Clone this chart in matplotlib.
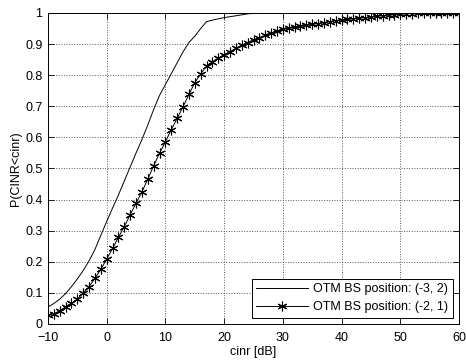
import numpy as np
import matplotlib
matplotlib.use("Agg")
import matplotlib.pyplot as plt

plt.rcParams["font.family"] = ["Liberation Sans", "DejaVu Sans"]

# cinr en dB, pas de 1 dB
cinr = np.arange(-10, 61)

# OTM BS position (-3, 2)
p_pos1 = [0.055, 0.066, 0.080, 0.098, 0.120, 0.145, 0.172, 0.203, 0.240, 0.285,
          0.330, 0.373, 0.415, 0.460, 0.505, 0.550, 0.593, 0.640, 0.690, 0.735,
          0.770, 0.805, 0.840, 0.875, 0.905, 0.925, 0.950, 0.972, 0.977, 0.981,
          0.985, 0.988, 0.991, 0.994, 0.997, 0.999] + [1.0] * 35

# OTM BS position (-2, 1)
p_pos2 = [0.028, 0.033, 0.043, 0.055, 0.066, 0.080, 0.100, 0.120, 0.147, 0.176,
          0.209, 0.243, 0.279, 0.313, 0.352, 0.388, 0.425, 0.466, 0.509, 0.549,
          0.586, 0.625, 0.661, 0.699, 0.738, 0.776, 0.804, 0.830, 0.843, 0.855,
          0.866, 0.876, 0.886, 0.896, 0.905, 0.914, 0.921, 0.928, 0.935, 0.942,
          0.948, 0.951, 0.954, 0.957, 0.960, 0.963, 0.966, 0.969, 0.972, 0.975,
          0.977, 0.979, 0.981, 0.983, 0.985, 0.987, 0.989, 0.991, 0.993, 0.995,
          0.996, 0.997, 0.998, 0.999, 0.999, 0.999, 0.999, 0.999, 0.999, 0.999,
          0.999]

labels = ["OTM BS position: (-3, 2)", "OTM BS position: (-2, 1)"]

fig = plt.figure(figsize=(4.66, 3.6), dpi=100)
ax = fig.add_axes([0.103, 0.1, 0.882, 0.864])

ax.plot(cinr, p_pos1, color="black", linewidth=0.7, label=labels[0])
ax.plot(cinr, p_pos2, color="black", linewidth=0.7, marker=(6, 2, 0),
        markersize=7, markeredgewidth=0.8, label=labels[1])

ax.set_xlim(-10, 60)
ax.set_ylim(0, 1)
ax.set_xticks(np.arange(-10, 61, 10))
ax.set_yticks(np.arange(0, 1.01, 0.1))
ax.set_yticklabels(["0", "0.1", "0.2", "0.3", "0.4", "0.5", "0.6", "0.7", "0.8", "0.9", "1"])
ax.tick_params(direction="in", length=4, labelsize=9, top=True, right=True, width=0.6)
ax.tick_params(axis="x", pad=6)
ax.tick_params(axis="y", pad=4)
ax.grid(True, linestyle=":", color="#555555", linewidth=0.7)
for s in ax.spines.values():
    s.set_linewidth(0.7)

ax.set_xlabel("cinr [dB]", fontsize=9, labelpad=1)
ax.set_ylabel("P(CINR<cinr)", fontsize=9, labelpad=2)

leg = ax.legend(loc="lower right", fontsize=9, handlelength=4.2, fancybox=False,
                edgecolor="black", framealpha=1, borderaxespad=0.5,
                borderpad=0.35, labelspacing=0.5, handletextpad=0.4)
leg.get_frame().set_linewidth(0.7)

plt.savefig("out.png")
plt.close()
